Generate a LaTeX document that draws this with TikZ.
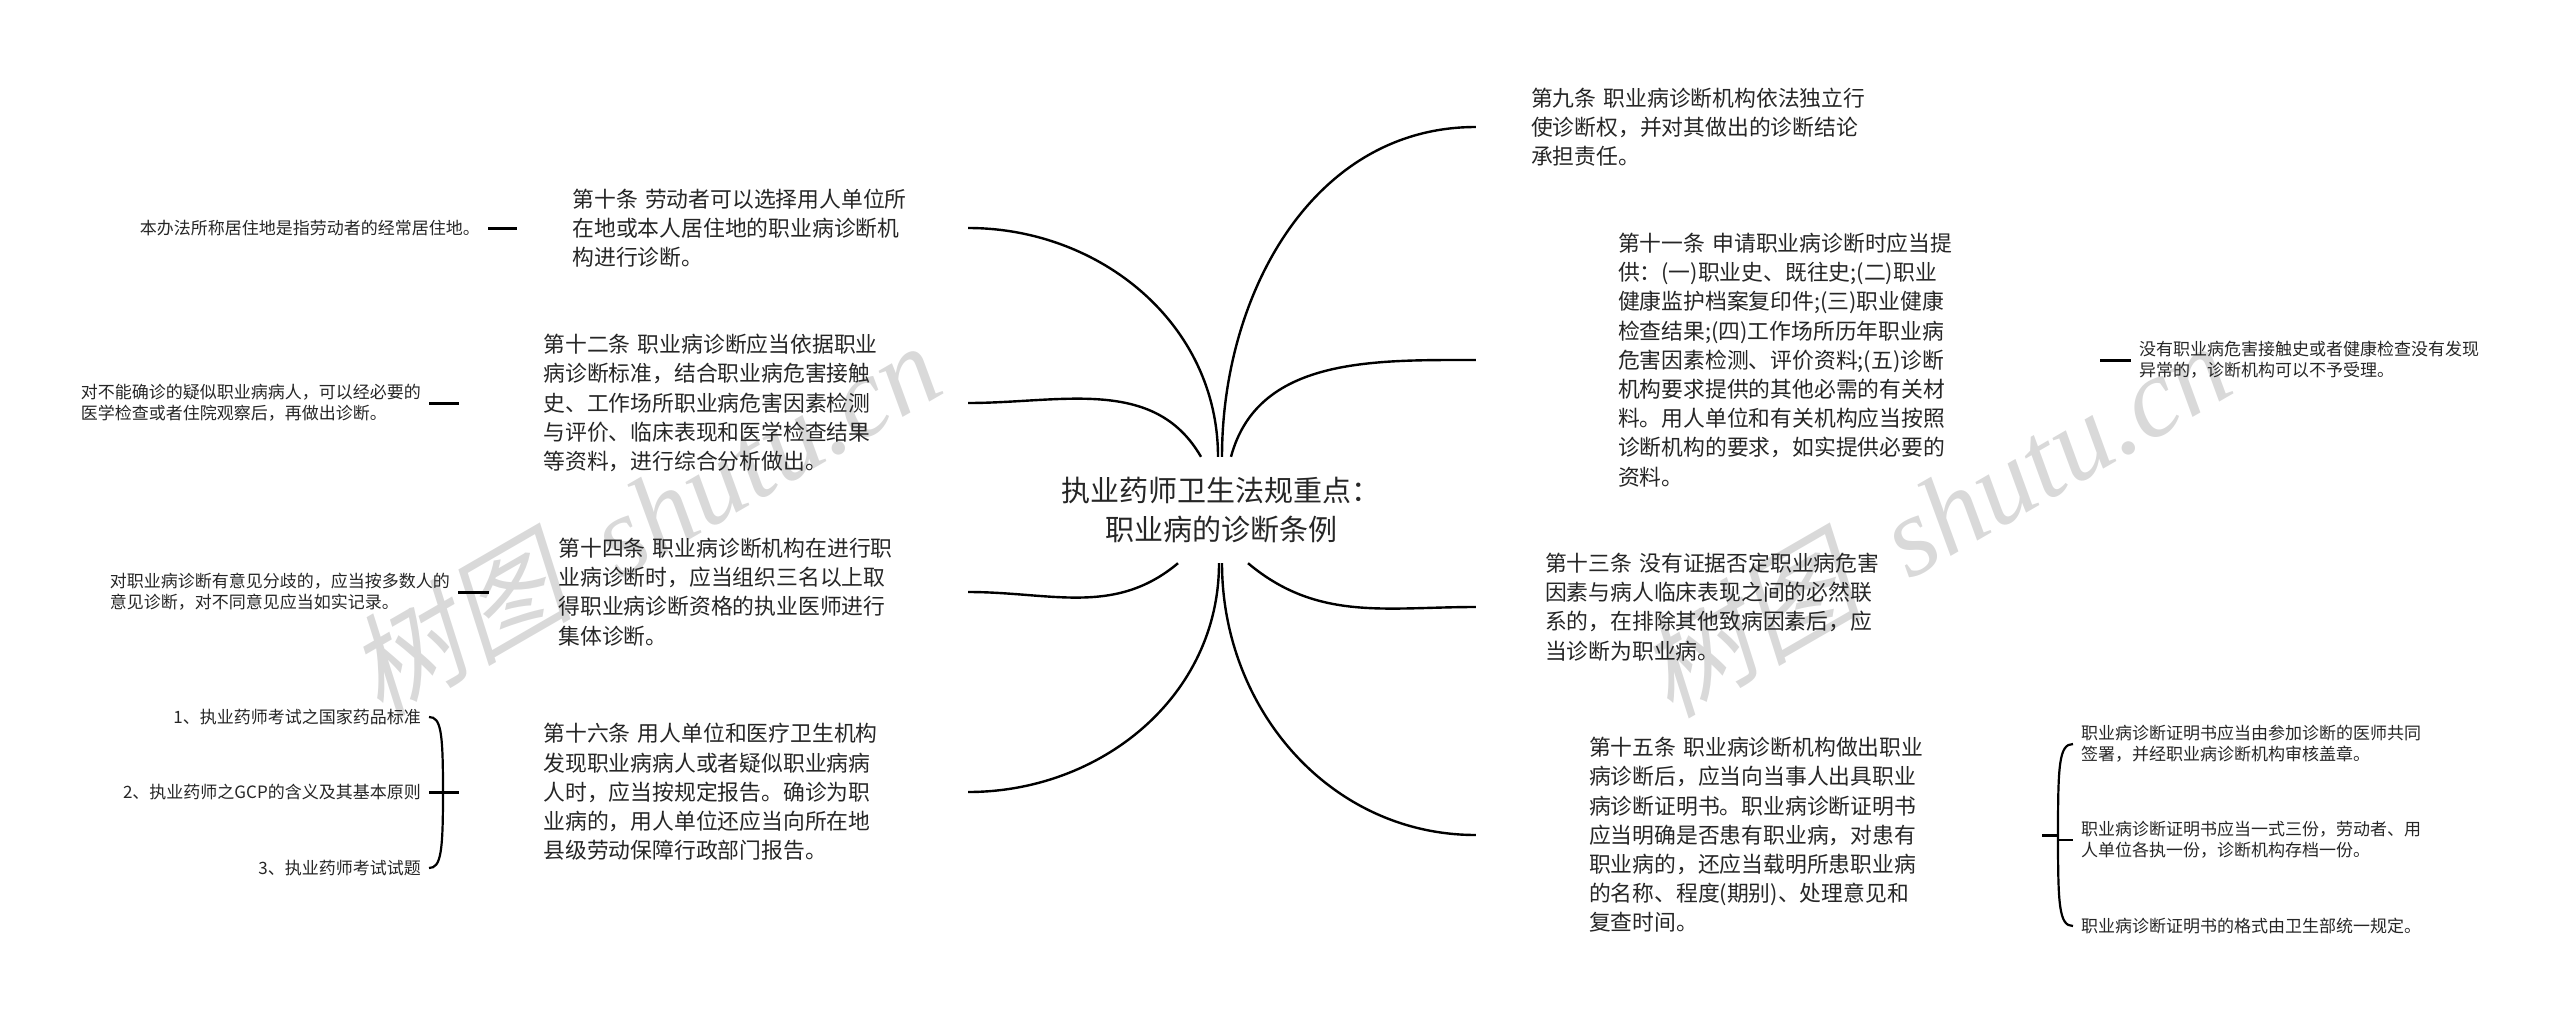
\documentclass[tikz,border=0pt]{standalone}
\usepackage{fontspec}
\setmainfont{Noto Sans CJK SC}
\newfontfamily\markfont{Liberation Serif}
\newfontfamily\markcjk[FakeSlant=0.22]{Noto Sans CJK SC}
\newcommand{\wmtext}{{\markcjk 树图}\hspace{0.45em}shutu.cn}
\usetikzlibrary{calc,positioning}

\definecolor{markgray}{HTML}{D9D9D9}
\definecolor{inkgray}{HTML}{262626}
\tikzset{
  article/.style={align=left,text width=340pt,inner ysep=0pt,text=inkgray,
    font=\fontsize{21.8}{29.2}\selectfont},
  minor/.style={align=left,inner ysep=0pt,inner xsep=8pt,text=inkgray,
    font=\fontsize{17}{21}\selectfont},
  topic/.style={align=center,inner sep=0pt,minimum width=330pt,minimum height=106pt,
    text=inkgray,font=\fontsize{29}{39}\selectfont},
  branch/.style={line width=2.4pt,black},
  stub/.style={line width=3pt,black},
  brace/.style={line width=2.2pt,black},
  stamp/.style={text=markgray,rotate=30,inner sep=0pt,font=\markfont\itshape\fontsize{113}{113}\selectfont}
}

\begin{document}
\begin{tikzpicture}[x=1pt,y=-1pt]
  \useasboundingbox (0,0) rectangle (2560,1020);
  \node[stamp] (wmleft) at (643,518) {\wmtext};
  \node[stamp] (wmright) at (1933,518) {\wmtext};

  \node[topic] (topic) at (1221,510) {执业药师卫生法规重点：\\职业病的诊断条例};

  % left side
  \node[article,inner xsep=55.5pt] (a10) at (742.5,228) {第十条 劳动者可以选择用人单位所\\在地或本人居住地的职业病诊断机\\构进行诊断。};
  \node[article,inner xsep=84.5pt] (a12) at (713.5,403) {第十二条 职业病诊断应当依据职业\\病诊断标准，结合职业病危害接触\\史、工作场所职业病危害因素检测\\与评价、临床表现和医学检查结果\\等资料，进行综合分析做出。};
  \node[article,inner xsep=69.5pt] (a14) at (728.5,592) {第十四条 职业病诊断机构在进行职\\业病诊断时，应当组织三名以上取\\得职业病诊断资格的执业医师进行\\集体诊断。};
  \node[article,inner xsep=84.5pt] (a16) at (713.5,792) {第十六条 用人单位和医疗卫生机构\\发现职业病病人或者疑似职业病病\\人时，应当按规定报告。确诊为职\\业病的，用人单位还应当向所在地\\县级劳动保障行政部门报告。};

  \node[minor,anchor=east] (n10) at (488,228) {本办法所称居住地是指劳动者的经常居住地。};
  \node[minor,anchor=east] (n12) at (429,403) {对不能确诊的疑似职业病病人，可以经必要的\\医学检查或者住院观察后，再做出诊断。};
  \node[minor,anchor=east] (n14) at (458,592) {对职业病诊断有意见分歧的，应当按多数人的\\意见诊断，对不同意见应当如实记录。};
  \node[minor,anchor=east] (e1) at (429,717) {1、执业药师考试之国家药品标准};
  \node[minor,anchor=east] (e2) at (429,792) {2、执业药师之GCP的含义及其基本原则};
  \node[minor,anchor=east] (e3) at (429,868) {3、执业药师考试试题};

  % right side
  \node[article,inner xsep=55pt] (a9) at (1701,127) {第九条 职业病诊断机构依法独立行\\使诊断权，并对其做出的诊断结论\\承担责任。};
  \node[article,inner xsep=142pt] (a11) at (1788,360) {第十一条 申请职业病诊断时应当提\\供：(一)职业史、既往史;(二)职业\\健康监护档案复印件;(三)职业健康\\检查结果;(四)工作场所历年职业病\\危害因素检测、评价资料;(五)诊断\\机构要求提供的其他必需的有关材\\料。用人单位和有关机构应当按照\\诊断机构的要求，如实提供必要的\\资料。};
  \node[article,inner xsep=69pt] (a13) at (1715,607) {第十三条 没有证据否定职业病危害\\因素与病人临床表现之间的必然联\\系的，在排除其他致病因素后，应\\当诊断为职业病。};
  \node[article,inner xsep=113pt] (a15) at (1759,835) {第十五条 职业病诊断机构做出职业\\病诊断后，应当向当事人出具职业\\病诊断证明书。职业病诊断证明书\\应当明确是否患有职业病，对患有\\职业病的，还应当载明所患职业病\\的名称、程度(期别)、处理意见和\\复查时间。};

  \node[minor,anchor=west] (n11) at (2131,360) {没有职业病危害接触史或者健康检查没有发现\\异常的，诊断机构可以不予受理。};
  \node[minor,anchor=west] (m1) at (2073,744) {职业病诊断证明书应当由参加诊断的医师共同\\签署，并经职业病诊断机构审核盖章。};
  \node[minor,anchor=west] (m2) at (2073,840) {职业病诊断证明书应当一式三份，劳动者、用\\人单位各执一份，诊断机构存档一份。};
  \node[minor,anchor=west] (m3) at (2073,926) {职业病诊断证明书的格式由卫生部统一规定。};

  \coordinate (hubl) at (443,792);
  \coordinate (hubr) at (2058,835);

  % branches
  \draw[branch] ([xshift=-20pt]topic.north) to[out=120,in=0] (a12.east);
  \draw[branch] ([xshift=-3pt]topic.north) to[out=90,in=0] (a10.east);
  \draw[branch] ([xshift=-2pt]topic.south) to[out=-90,in=0] (a16.east);
  \draw[branch] ([xshift=-43pt]topic.south) to[out=-140,in=0] (a14.east);
  \draw[branch] ([xshift=1pt]topic.north) to[out=90,in=180] (a9.west);
  \draw[branch] ([xshift=10pt]topic.north) to[out=75,in=180] (a11.west);
  \draw[branch] ([xshift=27pt]topic.south) to[out=-40,in=180] (a13.west);
  \draw[branch] ([xshift=1pt]topic.south) to[out=-90,in=180] (a15.west);

  % stubs
  \draw[stub] (n10.east) -- (a10.west);
  \draw[stub] (n12.east) -- (a12.west);
  \draw[stub] (n14.east) -- (a14.west);
  \draw[stub] (e2.east) -- (a16.west);
  \draw[stub] (a11.east) -- (n11.west);
  \draw[stub] (a15.east) -- (hubr);
  \draw[brace] (hubr) |- (m2.west);

  % braces
  \draw[brace] (e1.east) .. controls +(12,0) and +(0,-60) .. (hubl);
  \draw[brace] (e3.east) .. controls +(12,0) and +(0,60) .. (hubl);
  \draw[brace] (m1.west) .. controls +(-14,0) and +(0,-70) .. (hubr);
  \draw[brace] (m3.west) .. controls +(-14,0) and +(0,70) .. (hubr);
\end{tikzpicture}
\end{document}
